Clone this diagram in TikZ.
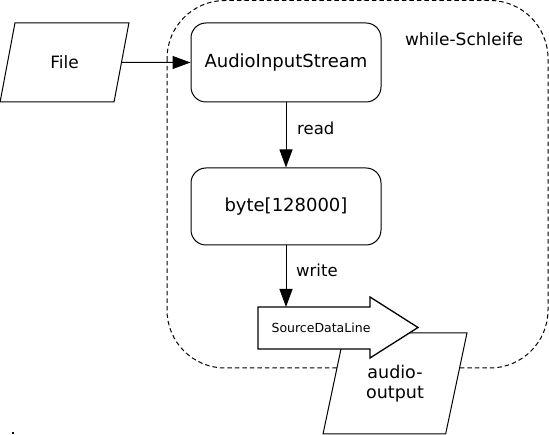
\documentclass[tikz,border=0pt]{standalone}
\usepackage{fontspec}
\setmainfont{DejaVu Sans}
\usetikzlibrary{arrows.meta,shapes.geometric}
\tikzset{
  para/.style={draw,fill=white,line width=1pt,trapezium,trapezium stretches=true,
    trapezium left angle=72,trapezium right angle=108,inner sep=0pt},
  roundbox/.style={draw,line width=1pt,rectangle,rounded corners=15pt,
    minimum width=190pt,inner sep=0pt,font=\fontsize{18}{21}\selectfont},
  flow/.style={draw,line width=1pt,-{Triangle[length=18pt,width=13pt]}},
  lbl/.style={anchor=west,inner sep=0pt,font=\fontsize{16.5}{20}\selectfont},
  frame/.style={draw,line width=1pt,dash pattern=on 4.5pt off 3pt,rounded corners=58pt},
}
\begin{document}
\begin{tikzpicture}[x=1pt,y=-1pt]
\useasboundingbox (0,0) rectangle (549,435);
% while loop frame
\draw[frame] (167,0.5) rectangle (548,368);
\node[anchor=center,inner sep=0pt,font=\fontsize{17}{20}\selectfont] (loop) at (464,39) {while-Schleife};
% File
\node[para,minimum width=129pt,minimum height=79pt,font=\fontsize{17}{20}\selectfont] (file) at (64.5,62.5) {File};
% boxes
\node[roundbox,minimum height=79pt] (ais) at (286,62.5) {AudioInputStream};
\node[roundbox,minimum height=77pt] (buf) at (286,206.5) {byte[128000]};
% audio-output parallelogram
\node[para,minimum width=145pt,minimum height=101pt,align=center,
  font=\fontsize{17.5}{20.5}\selectfont] (out) at (395,383.5) {audio-\\output};
% SourceDataLine block arrow
\coordinate (sdlnw) at (258,307);
\coordinate (sdlsw) at (258,349);
\coordinate (sdlhb) at (370,307);
\draw[line width=1.3pt,fill=white,line join=miter]
  (sdlnw) -- (sdlhb) -- (370,297) -- (418,327.5) -- (370,358) -- (370,349) -- (sdlsw) -- cycle;
\node[inner sep=0pt,font=\fontsize{12.5}{15}\selectfont] (sdl) at (321,328) {SourceDataLine};
\coordinate (sdltop) at (286,307);
% connectors
\draw[flow] (file.east) -- (ais.west);
\draw[flow] (ais.south) -- (buf.north);
\draw[flow] (buf.south) -- (sdltop);
\node[lbl] (rd) at (297,128) {read};
\node[lbl] (wr) at (296,270) {write};
% stray dot
\fill (12,432) rectangle (14,434);
\end{tikzpicture}
\end{document}
